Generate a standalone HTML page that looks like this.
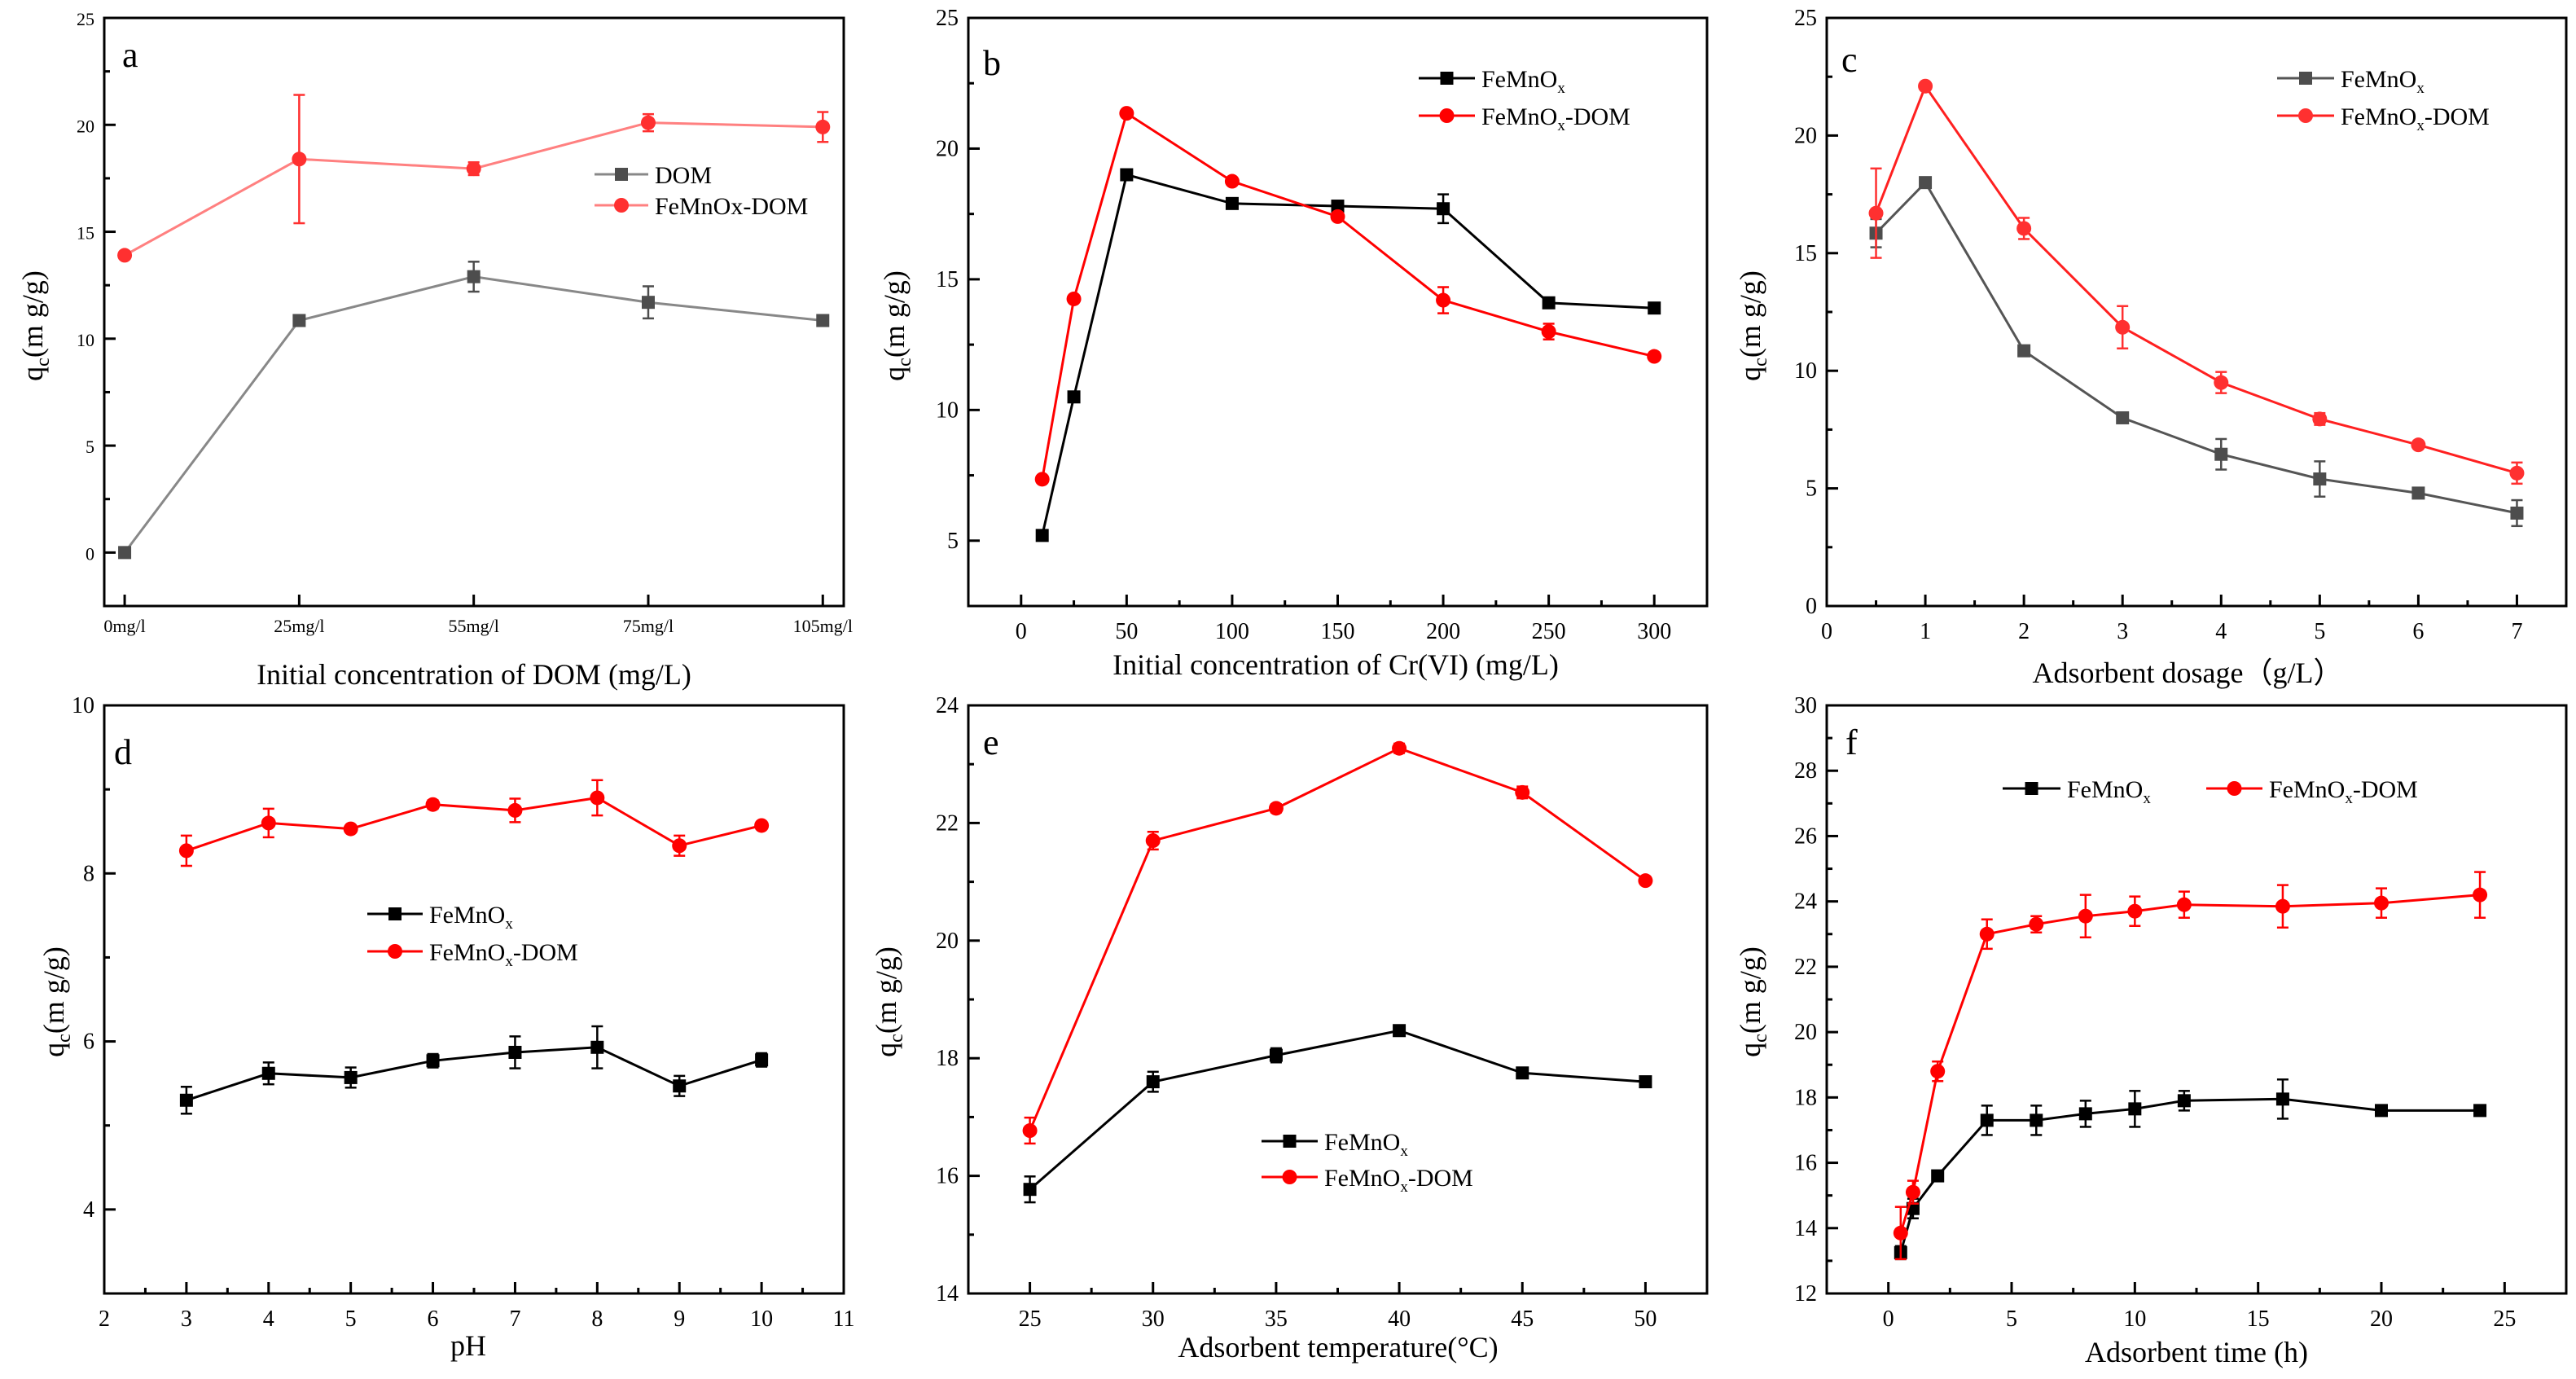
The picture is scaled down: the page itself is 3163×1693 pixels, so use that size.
<!DOCTYPE html>
<html><head><meta charset="utf-8">
<style>
html,body{margin:0;padding:0;background:#fff;}
svg{display:block;font-family:"Liberation Serif",serif;}
</style></head>
<body>
<svg id="fig" width="3163" height="1693" viewBox="0 0 3163 1693" xmlns="http://www.w3.org/2000/svg"></svg>
<script>
// Panel a
const aCats = ["0mg/l","25mg/l","55mg/l","75mg/l","105mg/l"];
const aDOM = [0, 10.85, 12.9, 11.7, 10.85];
const aDOMErr = [0, 0, 0.7, 0.75, 0];
const aFe = [13.9, 18.4, 17.95, 20.1, 19.9];
const aFeErr = [0, 3, 0.3, 0.4, 0.7];
// Panel b
const bX = [10,25,50,100,150,200,250,300];
const bFe = [5.2,10.5,19,17.9,17.8,17.7,14.1,13.9];
const bFeErr = [0,0,0,0,0,0.55,0,0];
const bDom = [7.35,14.25,21.35,18.75,17.4,14.2,13,12.05];
const bDomErr = [0,0,0,0,0,0.5,0.3,0];
// Panel c
const cX = [0.5,1,2,3,4,5,6,7];
const cFe = [15.85,18,10.85,8,6.45,5.4,4.8,3.95];
const cFeErr = [0.6,0.2,0.1,0,0.65,0.75,0,0.55];
const cDom = [16.7,22.1,16.05,11.85,9.5,7.95,6.85,5.65];
const cDomErr = [1.9,0,0.45,0.9,0.45,0.25,0,0.45];
// Panel d
const dX = [3,4,5,6,7,8,9,10];
const dFe = [5.3,5.62,5.57,5.77,5.87,5.93,5.47,5.78];
const dFeErr = [0.16,0.13,0.12,0.08,0.19,0.25,0.12,0.08];
const dDom = [8.27,8.6,8.53,8.82,8.75,8.9,8.33,8.57];
const dDomErr = [0.18,0.17,0.03,0.05,0.14,0.21,0.12,0.03];
// Panel e
const eX = [25,30,35,40,45,50];
const eFe = [15.77,17.6,18.05,18.47,17.75,17.6];
const eFeErr = [0.22,0.17,0.12,0.05,0.08,0.05];
const eDom = [16.77,21.7,22.25,23.27,22.52,21.02];
const eDomErr = [0.22,0.15,0.07,0.08,0.1,0.03];
// Panel f
const fX = [0.5,1,2,4,6,8,10,12,16,20,24];
const fFe = [13.25,14.6,15.6,17.3,17.3,17.5,17.65,17.9,17.95,17.6,17.6];
const fFeErr = [0.2,0.3,0.1,0.45,0.45,0.4,0.55,0.3,0.6,0.1,0.15];
const fDom = [13.85,15.1,18.8,23,23.3,23.55,23.7,23.9,23.85,23.95,24.2];
const fDomErr = [0.8,0.35,0.3,0.45,0.25,0.65,0.45,0.4,0.65,0.45,0.7];

const NS = "http://www.w3.org/2000/svg";
const svg = document.getElementById('fig');
function mk(tag, attrs, parent, text){
  const e = document.createElementNS(NS, tag);
  for (const k in attrs) e.setAttribute(k, attrs[k]);
  if (text !== undefined) e.textContent = text;
  (parent||svg).appendChild(e);
  return e;
}
function range(a,b,s){const r=[];for(let v=a;v<=b+1e-9;v+=s)r.push(+v.toFixed(6));return r;}

function panel(p){
  const g = mk('g', {});
  
  
  const X = v => p.L + (v - p.xd[0])/(p.xd[1]-p.xd[0])*(p.R-p.L);
  const Y = v => p.B - (v - p.yd[0])/(p.yd[1]-p.yd[0])*(p.B-p.T);
  // frame
  const fr = mk('rect', {x:p.L,y:p.T,width:p.R-p.L,height:p.B-p.T,fill:'none',stroke:'#000','stroke-width':3}, g);
  
  
  // y ticks
  p.yMinor.forEach(v=>{ mk('line',{x1:p.L,x2:p.L+7,y1:Y(v),y2:Y(v),stroke:'#000','stroke-width':3},g); });
  p.yMajor.forEach(v=>{
    mk('line',{x1:p.L,x2:p.L+14,y1:Y(v),y2:Y(v),stroke:'#000','stroke-width':3},g);
    const t = mk('text',{x:p.L-12,y:Y(v)+9,'text-anchor':'end','font-size':p.tfs,fill:'#000'},g,String(v));
    
    
  });
  // x ticks
  p.xMinor.forEach(v=>{ mk('line',{x1:X(v),x2:X(v),y1:p.B,y2:p.B-7,stroke:'#000','stroke-width':3},g); });
  p.xMajor.forEach((v,i)=>{
    mk('line',{x1:X(v),x2:X(v),y1:p.B,y2:p.B-14,stroke:'#000','stroke-width':3},g);
    const t = mk('text',{x:X(v),y:p.B+p.tly,'text-anchor':'middle','font-size':p.tfs,fill:'#000'},g,p.xLabels?p.xLabels[i]:String(v));
    
    
  });
  // titles
  const xt = mk('text',{x:p.xtx,y:p.xty,'text-anchor':'middle','font-size':36,fill:'#000'},g,p.xTitle);
  
  
  const yt = mk('text',{x:0,y:0,'text-anchor':'middle','font-size':36,fill:'#000',transform:`translate(${p.ytx},${p.yty}) rotate(-90)`},g);
  
  
  mk('tspan',{},yt,'q');
  mk('tspan',{'font-size':24,dy:8},yt,'c');
  mk('tspan',{dy:-8},yt,'(m g/g)');
  const lt = mk('text',{x:p.lx,y:p.ly,'font-size':44,fill:'#000'},g,p.id);
  
  
  // series
  p.series.forEach(s=>{
    const sg = mk('g',{},g);
    
    
    const pts = s.xs.map((x,i)=>X(x).toFixed(1)+','+Y(s.ys[i]).toFixed(1)).join(' ');
    const ln = mk('polyline',{points:pts,fill:'none',stroke:s.line,'stroke-width':3},sg);
    
    
    s.xs.forEach((x,i)=>{
      const e = s.err[i];
      if (e>0){
        const cx=X(x), y1=Y(s.ys[i]+e), y2=Y(s.ys[i]-e);
        mk('line',{x1:cx,x2:cx,y1:y1,y2:y2,stroke:s.mc,'stroke-width':2.5},sg);
        mk('line',{x1:cx-7,x2:cx+7,y1:y1,y2:y1,stroke:s.mc,'stroke-width':2.5},sg);
        mk('line',{x1:cx-7,x2:cx+7,y1:y2,y2:y2,stroke:s.mc,'stroke-width':2.5},sg);
      }
      let m;
      if (s.shape==='sq') m = mk('rect',{x:X(x)-8,y:Y(s.ys[i])-8,width:16,height:16,fill:s.mc},sg);
      else m = mk('circle',{cx:X(x),cy:Y(s.ys[i]),r:9,fill:s.mc},sg);
      
      
    });
  });
  // legend
  p.legend.forEach((it,i)=>{
    const lg = mk('g',{},g);
    
    
    const s = p.series[i];
    mk('line',{x1:it.x1,x2:it.x2,y1:it.y,y2:it.y,stroke:s.line,'stroke-width':3},lg);
    const mx=(it.x1+it.x2)/2;
    if (s.shape==='sq') mk('rect',{x:mx-8,y:it.y-8,width:16,height:16,fill:s.mc},lg);
    else mk('circle',{cx:mx,cy:it.y,r:9,fill:s.mc},lg);
    const t = mk('text',{x:it.x2+8,y:it.y+11,'font-size':p.lfs||30,fill:'#000'},lg);
    if (it.sub){
      mk('tspan',{},t,'FeMnO');
      mk('tspan',{'font-size':19,dy:7},t,'x');
      if (it.rest) mk('tspan',{dy:-7},t,it.rest);
    } else t.textContent = it.label;
  });
}

const BLK = {line:'#000',mc:'#000'};
const RED = {line:'#ff0000',mc:'#ff0000'};
const GRY = {line:'#555',mc:'#4d4d4d'};

panel({id:'a',L:128,R:1036,T:22,B:744,xd:[-0.117,4.12],yd:[-2.5,25],
  yMajor:range(0,25,5),yMinor:range(2.5,22.5,5),xMajor:[0,1,2,3,4],xMinor:[],xLabels:aCats,tfs:22,tly:32,
  xTitle:'Initial concentration of  DOM (mg/L)',xtx:582,xty:840,ytx:52,yty:400,lx:150,ly:82,lfs:30,
  series:[{key:'dom',xs:[0,1,2,3,4],ys:aDOM,err:aDOMErr,shape:'sq',line:'#888',mc:'#4d4d4d'},
          {key:'femnox-dom',xs:[0,1,2,3,4],ys:aFe,err:aFeErr,shape:'ci',line:'#ff8080',mc:'#ff3030'}],
  legend:[{x1:730,x2:796,y:214,label:'DOM'},{x1:730,x2:796,y:252,label:'FeMnOx-DOM'}]});

panel({id:'b',L:1189,R:2096,T:22,B:744,xd:[-25,325],yd:[2.5,25],
  yMajor:range(5,25,5),yMinor:range(2.5,22.5,5),xMajor:range(0,300,50),xMinor:range(25,275,50),tfs:28,tly:40,
  xTitle:'Initial concentration of Cr(VI) (mg/L)',xtx:1640,xty:828,ytx:1110,yty:400,lx:1207,ly:92,
  series:[Object.assign({key:'femnox',xs:bX,ys:bFe,err:bFeErr,shape:'sq'},BLK),
          Object.assign({key:'femnox-dom',xs:bX,ys:bDom,err:bDomErr,shape:'ci'},RED)],
  legend:[{x1:1742,x2:1811,y:96,sub:true},{x1:1742,x2:1811,y:142,sub:true,rest:'-DOM'}]});

panel({id:'c',L:2243,R:3151,T:22,B:744,xd:[0,7.5],yd:[0,25],
  yMajor:range(0,25,5),yMinor:range(2.5,22.5,5),xMajor:range(0,7,1),xMinor:range(0.5,7,1),tfs:28,tly:40,
  xTitle:'Adsorbent dosage（g/L）',xtx:2686,xty:838,ytx:2161,yty:400,lx:2261,ly:88,
  series:[Object.assign({key:'femnox',xs:cX,ys:cFe,err:cFeErr,shape:'sq'},GRY),
          Object.assign({key:'femnox-dom',xs:cX,ys:cDom,err:cDomErr,shape:'ci'},{line:'#ff2020',mc:'#ff3030'})],
  legend:[{x1:2796,x2:2866,y:96,sub:true},{x1:2796,x2:2866,y:142,sub:true,rest:'-DOM'}]});

panel({id:'d',L:128,R:1036,T:866,B:1588,xd:[2,11],yd:[3,10],
  yMajor:range(4,10,2),yMinor:range(3,9,2),xMajor:range(2,11,1),xMinor:range(2.5,10.5,1),tfs:28,tly:40,
  xTitle:'pH',xtx:575,xty:1664,ytx:78,yty:1230,lx:140,ly:938,
  series:[Object.assign({key:'femnox',xs:dX,ys:dFe,err:dFeErr,shape:'sq'},BLK),
          Object.assign({key:'femnox-dom',xs:dX,ys:dDom,err:dDomErr,shape:'ci'},RED)],
  legend:[{x1:451,x2:519,y:1122,sub:true},{x1:451,x2:519,y:1168,sub:true,rest:'-DOM'}]});

panel({id:'e',L:1189,R:2096,T:866,B:1588,xd:[22.5,52.5],yd:[14,24],
  yMajor:range(14,24,2),yMinor:range(15,23,2),xMajor:range(25,50,5),xMinor:range(27.5,47.5,5),tfs:28,tly:40,
  xTitle:'Adsorbent temperature(°C)',xtx:1643,xty:1666,ytx:1100,yty:1230,lx:1207,ly:926,
  series:[Object.assign({key:'femnox',xs:eX,ys:eFe,err:eFeErr,shape:'sq'},BLK),
          Object.assign({key:'femnox-dom',xs:eX,ys:eDom,err:eDomErr,shape:'ci'},RED)],
  legend:[{x1:1549,x2:1618,y:1401,sub:true},{x1:1549,x2:1618,y:1445,sub:true,rest:'-DOM'}]});

panel({id:'f',L:2243,R:3151,T:866,B:1588,xd:[-2.5,27.5],yd:[12,30],
  yMajor:range(12,30,2),yMinor:range(13,29,2),xMajor:range(0,25,5),xMinor:range(2.5,27.5,5),tfs:28,tly:40,
  xTitle:'Adsorbent time (h)',xtx:2697,xty:1672,ytx:2161,yty:1230,lx:2266,ly:926,
  series:[Object.assign({key:'femnox',xs:fX,ys:fFe,err:fFeErr,shape:'sq'},BLK),
          Object.assign({key:'femnox-dom',xs:fX,ys:fDom,err:fDomErr,shape:'ci'},RED)],
  legend:[{x1:2459,x2:2530,y:968,sub:true},{x1:2709,x2:2778,y:968,sub:true,rest:'-DOM'}]});
</script>
</body></html>
